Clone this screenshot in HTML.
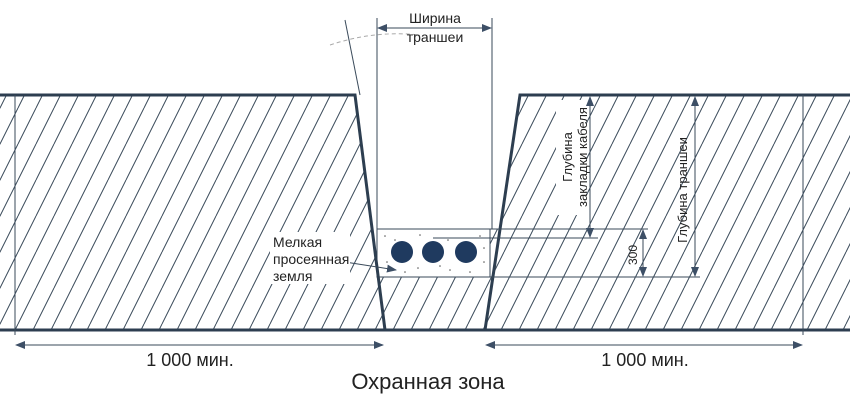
<!DOCTYPE html>
<html><head><meta charset="utf-8"><style>body{margin:0;background:#fff}svg{display:block}text{font-family:"Liberation Sans",sans-serif;fill:#222}</style></head><body>
<svg width="850" height="400" viewBox="0 0 850 400" xmlns="http://www.w3.org/2000/svg">
<defs>
<pattern id="h" patternUnits="userSpaceOnUse" width="18" height="36"><path d="M-18,36 L0,0 M0,36 L18,0 M18,36 L36,0" stroke="#3a4a5a" stroke-width="1"/></pattern>
<marker id="a" markerWidth="10" markerHeight="8" refX="9" refY="4" orient="auto-start-reverse"><path d="M0,0 L10,4 L0,8 z" fill="#3d4f66"/></marker>
</defs>
<rect x="0" y="95" width="850" height="235" fill="url(#h)"/>
<polygon points="355,95 520,95 500,229 372,229" fill="#fff"/>
<rect x="377" y="229" width="113" height="48" fill="#fff" stroke="#3a4a5a" stroke-width="1"/>
<g fill="#555">
<circle cx="385" cy="236" r="0.8"/><circle cx="395" cy="240" r="0.8"/><circle cx="420" cy="235" r="0.8"/><circle cx="448" cy="240" r="0.8"/><circle cx="480" cy="236" r="0.8"/><circle cx="387" cy="262" r="0.8"/><circle cx="418" cy="268" r="0.8"/><circle cx="450" cy="270" r="0.8"/><circle cx="484" cy="262" r="0.8"/><circle cx="470" cy="272" r="0.8"/><circle cx="405" cy="272" r="0.8"/><circle cx="484" cy="248" r="0.8"/><circle cx="440" cy="266" r="0.8"/>
</g>
<circle cx="402" cy="252" r="11" fill="#1f3a5f"/><circle cx="433" cy="252" r="11" fill="#1f3a5f"/><circle cx="466" cy="252" r="11" fill="#1f3a5f"/>
<g stroke="#2d3e50" stroke-width="3" fill="none">
<polyline points="0,95 355,95 385,330"/>
<polyline points="850,95 520,95 485,330"/>
</g>
<line x1="0" y1="330" x2="850" y2="330" stroke="#2d3e50" stroke-width="3"/>
<g stroke="#3a4a5a" stroke-width="1" fill="none">
<line x1="345" y1="20" x2="360" y2="95"/>
<path d="M330,45 Q375,30 420,35" stroke="#aaa" stroke-dasharray="4,3"/>
<line x1="377" y1="18" x2="377" y2="229"/><line x1="492" y1="18" x2="492" y2="229"/>
<line x1="378" y1="28" x2="491" y2="28" marker-start="url(#a)" marker-end="url(#a)"/>
<line x1="15" y1="95" x2="15" y2="335"/><line x1="803" y1="95" x2="803" y2="335"/>
<line x1="16" y1="345" x2="383" y2="345" marker-start="url(#a)" marker-end="url(#a)"/>
<line x1="486" y1="345" x2="802" y2="345" marker-start="url(#a)" marker-end="url(#a)"/>
<line x1="490" y1="229" x2="648" y2="229"/><line x1="433" y1="238" x2="598" y2="238"/><line x1="390" y1="277" x2="700" y2="277"/>
<line x1="590" y1="97" x2="590" y2="237" marker-start="url(#a)" marker-end="url(#a)"/>
<line x1="643" y1="230" x2="643" y2="276" marker-start="url(#a)" marker-end="url(#a)"/>
<line x1="695" y1="97" x2="695" y2="276" marker-start="url(#a)" marker-end="url(#a)"/>
<line x1="345" y1="262" x2="396" y2="270" marker-end="url(#a)"/>
</g>
<text x="435" y="23" font-size="14" text-anchor="middle">Ширина</text>
<text x="435" y="42" font-size="14" text-anchor="middle">траншеи</text>
<rect x="270" y="232" width="80" height="52" fill="#fff"/>
<text x="273" y="247" font-size="14">Мелкая</text>
<text x="273" y="264" font-size="14">просеянная</text>
<text x="273" y="281" font-size="14">земля</text>
<rect x="556" y="100" width="30" height="115" fill="#fff"/>
<text transform="translate(572,157) rotate(-90)" font-size="13" text-anchor="middle">Глубина</text>
<text transform="translate(587,157) rotate(-90)" font-size="13" text-anchor="middle">закладки кабеля</text>
<text transform="translate(637,255) rotate(-90)" font-size="12" text-anchor="middle">300</text>
<text transform="translate(687,190) rotate(-90)" font-size="13" text-anchor="middle">Глубина траншеи</text>
<text x="190" y="366" font-size="18" text-anchor="middle">1 000 мин.</text>
<text x="645" y="366" font-size="18" text-anchor="middle">1 000 мин.</text>
<text x="428" y="389" font-size="22" text-anchor="middle">Охранная зона</text>
</svg>
</body></html>
